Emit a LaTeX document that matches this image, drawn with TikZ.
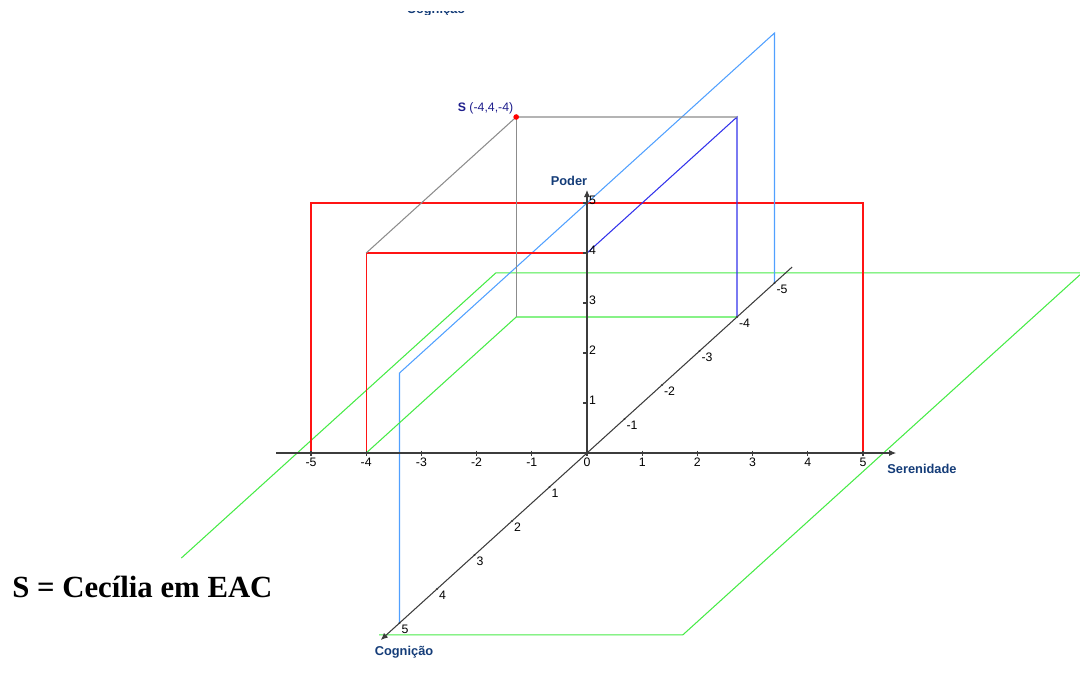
\documentclass[tikz,border=0pt]{standalone}
\usepackage{fontspec}
\setmainfont{Liberation Serif}
\setsansfont{Liberation Sans}
\usetikzlibrary{arrows.meta}
\definecolor{axisgray}{RGB}{60,60,60}
\definecolor{labelblue}{RGB}{20,60,120}
\definecolor{snavy}{RGB}{30,30,140}
\definecolor{planegreen}{RGB}{70,235,70}
\definecolor{boxred}{RGB}{255,20,20}
\definecolor{skyblue}{RGB}{80,160,255}
\definecolor{deepblue}{RGB}{50,50,235}
\definecolor{projgray}{RGB}{140,140,140}
\tikzset{
  axis/.style={line width=0.6pt, color=axisgray},
  axisarrow/.style={-{Latex[length=4pt,width=3.5pt]}, line width=0.6pt, color=axisgray},
  axislabel/.style={font=\sffamily\bfseries\fontsize{7.3}{8}\selectfont, color=labelblue, inner sep=1pt},
  ticklabel/.style={font=\sffamily\fontsize{7}{8}\selectfont, color=black, inner sep=1pt},
  greenline/.style={line width=0.6pt, color=planegreen},
  redline/.style={line width=0.6pt, color=boxred},
  skyline/.style={line width=0.6pt, color=skyblue},
  blueline/.style={line width=0.6pt, color=deepblue},
  grayline/.style={line width=0.6pt, color=projgray}
}

\begin{document}
\begin{tikzpicture}[x={(1.104cm,0cm)}, y={(-0.75cm,-0.68cm)}, z={(0cm,1cm)}]
  \useasboundingbox (-11.74cm,-4.44cm) rectangle (9.86cm,9.06cm);
  % point S and its projections
  \coordinate (O) at (0,0,0);
  \coordinate (S) at (-4,-4,4);
  \coordinate (Ssp) at (-4,0,4);
  \coordinate (Scp) at (0,-4,4);
  \coordinate (Ssc) at (-4,-4,0);
  \coordinate (Ss) at (-4,0,0);
  \coordinate (Sc) at (0,-4,0);
  \coordinate (Sp) at (0,0,4);
  % horizontal plane (Poder = 0)
  \coordinate (gA) at (-5.25,-5.3,0);
  \coordinate (gB) at (5.37,-5.3,0);
  \coordinate (gC) at (5.37,5.35,0);
  \coordinate (gD) at (-0.13,5.35,0);
  \coordinate (gE) at (-5.25,3.09,0);
  \draw[greenline] (gE) -- (gA) -- (gB) -- (gC) -- (gD);
  % plane Cognicao = 0
  \draw[redline] (-5,0,0) -- (-5,0,5) -- (5,0,5) -- (5,0,0);
  % plane Serenidade = 0
  \draw[skyline] (0,5,0) -- (0,5,5) -- (0,-5,5) -- (0,-5,0);
  % projections of S
  \draw[redline] (Ss) -- (Ssp) -- (Sp);
  \draw[blueline] (Sp) -- (Scp) -- (Sc);
  \draw[greenline] (Ss) -- (Ssc) -- (Sc);
  \draw[grayline] (Ssp) -- (S) -- (Scp);
  \draw[grayline] (S) -- (Ssc);
  % axes
  \draw[axisarrow] (-5.63,0,0) -- (5.6,0,0);
  \draw[axisarrow] (O) -- (0,0,5.26);
  \draw[axisarrow] (0,-5.47,0) -- (0,5.5,0);
  \foreach \i in {-5,...,5}{
    \draw[axis] (\i,0,0) ++(0cm,0.05cm) -- ++(0cm,-0.1cm);
    \node[ticklabel, below, yshift=-1.5pt] (ts\i) at (\i,0,0) {\i};
  }
  \foreach \i in {1,...,5}{
    \draw[axis] (0,0,\i) -- ++(-0.08cm,0cm);
    \node[ticklabel, right, yshift=1.5pt] (tp\i) at (0,0,\i) {\i};
  }
  \foreach \i in {-5,...,-1,1,2,...,5}{
    \fill[axisgray] (0,\i,0) circle (0.7pt);
    \node[ticklabel, below right] (tc\i) at (0,\i,0) {\i};
  }
  % axis labels
  \node[axislabel] (serlabel) at (6.70cm,-0.32cm) {Serenidade};
  \node[axislabel] (podlabel) at (-0.36cm,5.44cm) {Poder};
  \node[axislabel] (coglabel) at (-3.66cm,-3.98cm) {Cognição};
  \begin{scope}
    \clip (-4.2cm,8.82cm) rectangle (-1.8cm,8.77cm);
    \node[axislabel, anchor=base] (cogtop) at (-3.02cm,8.79cm) {Cognição};
  \end{scope}
  % the point S
  \fill[red] (S) circle (1.6pt);
  \node[font=\sffamily\fontsize{7}{8}\selectfont, color=snavy, above left, inner sep=1.5pt] (slabel) at (S) {\textbf{S} (-4,4,-4)};
  \node[anchor=base west, font=\bfseries\fontsize{17.5}{20}\selectfont, inner sep=0pt] (caption) at (-11.5cm,-2.88cm) {S = Cecília em EAC};
\end{tikzpicture}
\end{document}
